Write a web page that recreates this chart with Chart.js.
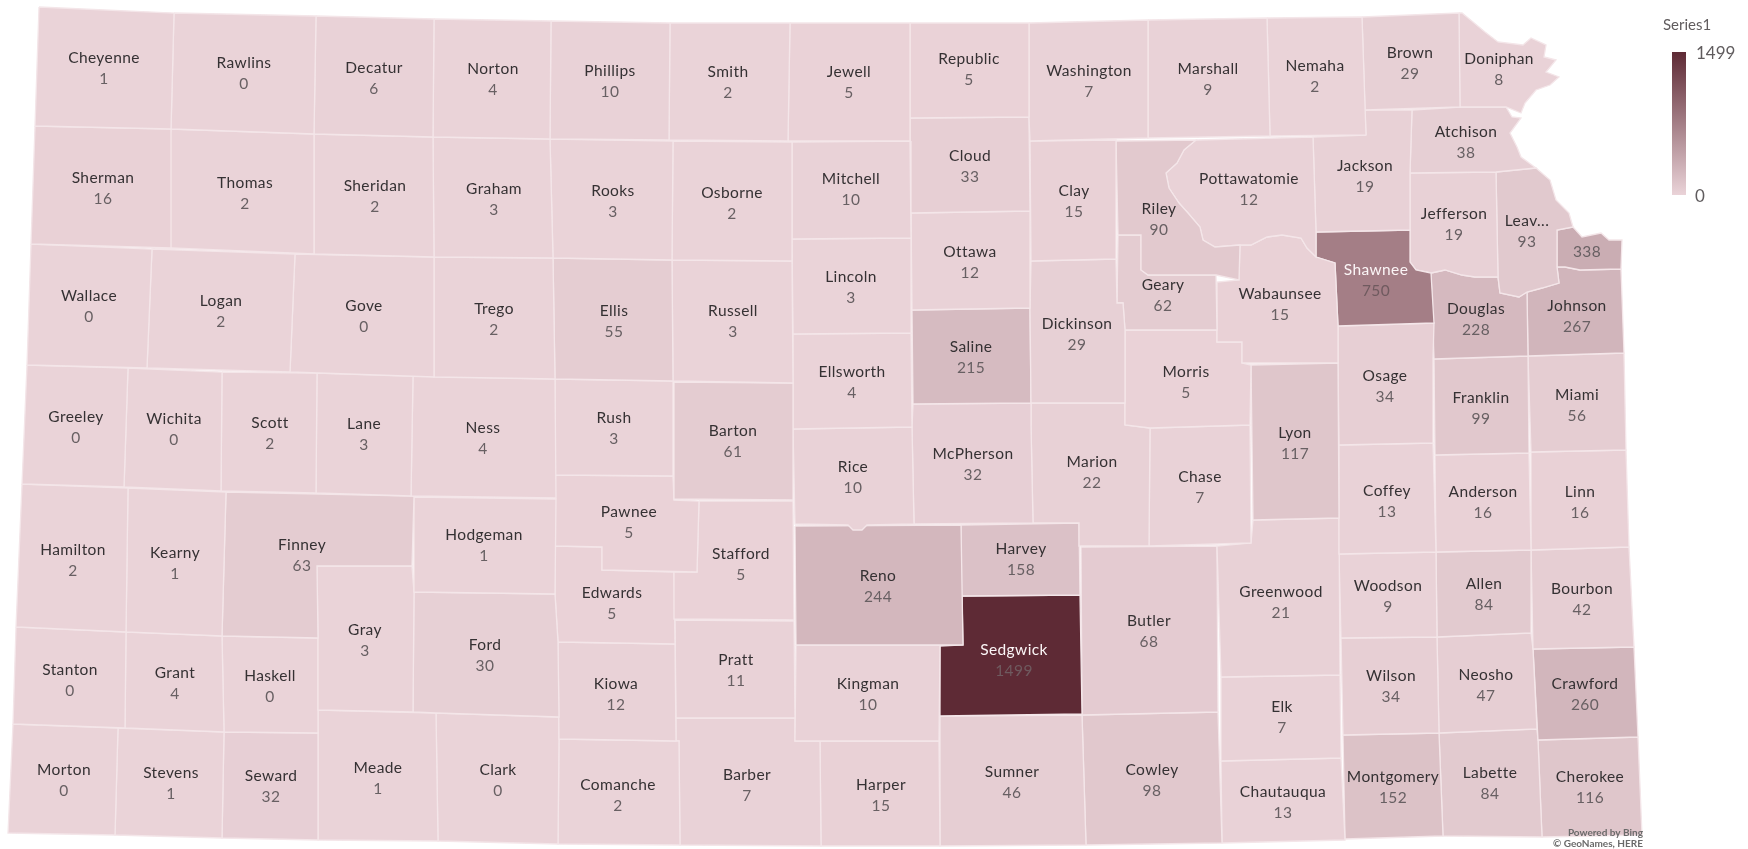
<!DOCTYPE html>
<html>
<head>
<meta charset="utf-8">
<title>Kansas counties</title>
<script src="https://cdn.jsdelivr.net/npm/chart.js@4"></script>
<style>
  html, body { margin: 0; padding: 0; background: #fff; overflow: hidden; }
  #map-chart { display: block; filter: blur(0.4px); }
</style>
</head>
<body>
<canvas id="map-chart" width="1748" height="849"></canvas>
<script>
"use strict";

//////// DATA ///////////
// shown names, the map cuts Leavenworth short and drops Wyandotte
const county_names = [
  'Cheyenne','Rawlins','Decatur','Norton','Phillips','Smith','Jewell','Republic','Washington','Marshall','Nemaha','Brown','Doniphan',
  'Sherman','Thomas','Sheridan','Graham','Rooks','Osborne','Mitchell','Cloud','Clay','Riley','Pottawatomie','Jackson','Atchison',
  'Wallace','Logan','Gove','Trego','Ellis','Russell','Lincoln','Ottawa','Dickinson','Geary','Wabaunsee','Shawnee','Jefferson','Leav...','',
  'Greeley','Wichita','Scott','Lane','Ness','Rush','Barton','Ellsworth','Saline','Morris','Lyon','Osage','Douglas','Johnson','Franklin','Miami',
  'Hamilton','Kearny','Finney','Hodgeman','Pawnee','Stafford','Rice','McPherson','Marion','Chase','Coffey','Anderson','Linn',
  'Gray','Ford','Edwards','Reno','Harvey','Greenwood','Woodson','Allen','Bourbon',
  'Stanton','Grant','Haskell','Kiowa','Pratt','Kingman','Sedgwick','Butler','Wilson','Neosho','Crawford','Elk',
  'Morton','Stevens','Seward','Meade','Clark','Comanche','Barber','Harper','Sumner','Cowley','Chautauqua','Montgomery','Labette','Cherokee'
];

const county_values = [
  1,0,6,4,10,2,5,5,7,9,2,29,8,
  16,2,2,3,3,2,10,33,15,90,12,19,38,
  0,2,0,2,55,3,3,12,29,62,15,750,19,93,338,
  0,0,2,3,4,3,61,4,215,5,117,34,228,267,99,56,
  2,1,63,1,5,5,10,32,22,7,13,16,16,
  3,30,5,244,158,21,9,84,42,
  0,4,0,12,11,10,1499,68,34,47,260,7,
  0,1,32,1,0,2,7,15,46,98,13,152,84,116
];

// county outlines in map units, same order as the names
const county_outlines = [
  [[39,7],[174,13],[171,129],[35,126]],
  [[174,13],[316,16],[314,134],[171,129]],
  [[316,16],[434,19],[433,137],[314,134]],
  [[434,19],[551,21],[550,139],[433,137]],
  [[551,21],[670,23],[669,140],[550,139]],
  [[670,23],[790,23],[788,141],[669,140]],
  [[790,23],[910,23],[910,141],[788,141]],
  [[910,23],[1029,23],[1029,117],[910,118]],
  [[1029,23],[1148,20],[1148,138],[1030,141],[1029,117]],
  [[1148,20],[1267,18],[1270,136],[1148,138]],
  [[1267,18],[1362,17],[1366,135],[1270,136]],
  [[1362,17],[1459,13],[1460,107],[1365,110]],
  [[1459,13],[1462,13],[1473,22],[1485,32],[1498,42],[1523,45],[1531,38],[1546,45],[1544,57],[1556,60],[1546,72],[1559,77],[1550,85],[1536,90],[1525,103],[1521,113],[1506,107],[1460,107]],

  [[35,126],[171,129],[171,248],[31,244]],
  [[171,129],[314,134],[314,254],[171,248],[152,249]],
  [[314,134],[433,137],[434,257],[314,254]],
  [[433,137],[550,139],[553,258],[434,257]],
  [[550,139],[673,141],[672,260],[553,258]],
  [[673,141],[792,142],[792,261],[672,260]],
  [[792,142],[910,141],[911,238],[792,239]],
  [[910,118],[1029,117],[1030,211],[911,213]],
  [[1030,141],[1116,140],[1116,259],[1031,261]],
  [[1116,141],[1196,140],[1184,150],[1177,163],[1166,173],[1169,188],[1179,203],[1188,213],[1200,227],[1203,240],[1215,247],[1240,245],[1239,280],[1216,275],[1148,275],[1141,270],[1141,235],[1118,235]],
  [[1196,140],[1313,137],[1316,232],[1316,257],[1307,248],[1301,238],[1282,235],[1267,237],[1251,245],[1240,245],[1215,247],[1203,240],[1200,227],[1188,213],[1179,203],[1169,188],[1166,173],[1177,163],[1184,150]],
  [[1366,135],[1365,110],[1412,110],[1410,173],[1410,230],[1316,232],[1313,137]],
  [[1412,110],[1460,107],[1506,107],[1512,117],[1521,118],[1510,133],[1517,147],[1521,157],[1536,168],[1496,172],[1410,173]],

  [[31,244],[152,249],[147,368],[27,365]],
  [[152,249],[295,254],[290,372],[147,368]],
  [[295,254],[434,257],[434,377],[290,372]],
  [[434,257],[553,258],[555,379],[434,377]],
  [[553,258],[672,260],[673,381],[555,379]],
  [[672,260],[792,261],[793,383],[673,381]],
  [[792,239],[911,238],[911,333],[793,334]],
  [[911,213],[1030,211],[1030,308],[912,310]],
  [[1031,261],[1116,259],[1117,303],[1123,303],[1125,330],[1125,403],[1031,403],[1030,308]],
  [[1118,235],[1141,235],[1141,270],[1148,275],[1216,275],[1217,330],[1125,330],[1123,303],[1117,303]],
  [[1240,245],[1251,245],[1267,237],[1282,235],[1301,238],[1307,248],[1316,257],[1335,263],[1338,326],[1338,363],[1242,363],[1242,342],[1217,342],[1217,282],[1239,280]],
  [[1316,232],[1410,230],[1410,262],[1416,270],[1431,273],[1434,323],[1338,326],[1335,263],[1316,257]],
  [[1410,173],[1496,172],[1498,277],[1475,277],[1462,275],[1445,270],[1431,273],[1416,270],[1410,262]],
  [[1496,172],[1536,168],[1550,180],[1556,200],[1569,213],[1573,227],[1557,230],[1557,267],[1559,283],[1542,288],[1527,292],[1519,297],[1500,293],[1498,277]],
  [[1557,230],[1573,227],[1582,237],[1601,233],[1609,240],[1622,240],[1621,269],[1580,270],[1565,267],[1557,267]],

  [[27,365],[128,368],[124,487],[22,484]],
  [[128,368],[222,372],[221,491],[124,487]],
  [[222,372],[317,373],[316,493],[221,491]],
  [[317,373],[413,376],[411,496],[316,493]],
  [[413,376],[555,379],[556,498],[411,496]],
  [[555,379],[673,381],[673,476],[555,475]],
  [[674,382],[793,383],[793,500],[674,499]],
  [[793,334],[911,333],[912,427],[793,429]],
  [[912,310],[1030,308],[1031,403],[913,404]],
  [[1125,330],[1217,330],[1217,342],[1242,342],[1242,363],[1251,365],[1250,425],[1150,428],[1125,425]],
  [[1251,365],[1338,363],[1339,518],[1253,520]],
  [[1338,326],[1434,323],[1433,359],[1433,443],[1339,445],[1338,363]],
  [[1431,273],[1445,270],[1462,275],[1475,277],[1498,277],[1500,293],[1519,297],[1527,292],[1528,356],[1434,359]],
  [[1527,292],[1542,288],[1559,283],[1557,267],[1565,267],[1580,270],[1621,269],[1624,353],[1528,356]],
  [[1434,359],[1528,356],[1529,453],[1435,455]],
  [[1528,356],[1624,353],[1626,450],[1531,452]],

  [[22,484],[128,488],[126,632],[16,627]],
  [[128,488],[226,492],[222,636],[126,632]],
  [[226,492],[414,496],[412,566],[317,566],[318,638],[222,636]],
  [[414,497],[556,499],[555,594],[414,592]],
  [[555,475],[673,476],[674,500],[699,501],[697,572],[602,570],[602,547],[555,546]],
  [[699,501],[793,501],[794,620],[674,619],[674,572],[697,572]],
  [[793,429],[912,427],[914,524],[867,525],[862,530],[853,530],[848,525],[795,524]],
  [[913,404],[1031,403],[1031,425],[1033,523],[914,524],[912,427]],
  [[1031,403],[1125,403],[1125,425],[1150,428],[1149,546],[1079,546],[1079,523],[1033,523],[1031,425]],
  [[1150,428],[1250,425],[1251,543],[1149,546]],
  [[1339,445],[1433,443],[1436,552],[1339,554]],
  [[1435,455],[1529,453],[1531,550],[1436,552]],
  [[1531,452],[1626,450],[1629,547],[1531,550]],

  [[317,566],[412,566],[414,592],[413,712],[318,710],[318,638]],
  [[414,592],[555,594],[558,642],[559,717],[436,713],[413,712]],
  [[555,546],[602,547],[602,570],[674,572],[675,644],[558,642],[555,594]],
  [[795,526],[961,525],[963,645],[796,645]],
  [[961,525],[1079,523],[1080,595],[962,596]],
  [[1253,520],[1339,518],[1340,675],[1221,677],[1217,546],[1251,543]],
  [[1339,554],[1436,552],[1437,637],[1341,638]],
  [[1436,552],[1531,550],[1531,633],[1437,637]],
  [[1531,550],[1629,547],[1634,647],[1533,649]],

  [[16,627],[126,632],[125,728],[13,724]],
  [[126,632],[222,636],[224,732],[125,728]],
  [[222,636],[318,638],[318,733],[224,732]],
  [[558,642],[675,644],[676,741],[559,739]],
  [[675,620],[794,621],[795,718],[676,718]],
  [[796,645],[940,645],[939,741],[795,741]],
  [[962,596],[1080,595],[1082,714],[940,716],[940,646],[963,645]],
  [[1081,547],[1217,546],[1218,712],[1082,715]],
  [[1341,638],[1437,637],[1439,733],[1343,735]],
  [[1437,637],[1531,633],[1533,649],[1537,729],[1439,733]],
  [[1533,649],[1634,647],[1638,737],[1538,740]],
  [[1221,677],[1340,675],[1341,758],[1221,761]],

  [[13,724],[118,728],[115,835],[8,833]],
  [[118,728],[224,732],[222,838],[115,835]],
  [[224,732],[318,733],[318,840],[222,838]],
  [[318,710],[436,713],[438,841],[318,840]],
  [[436,713],[559,717],[559,739],[558,844],[438,841]],
  [[559,739],[679,741],[680,845],[558,844]],
  [[676,718],[795,718],[795,741],[820,741],[821,846],[680,845],[679,741],[676,741]],
  [[820,741],[939,741],[940,846],[821,846]],
  [[940,716],[1082,715],[1086,845],[940,846]],
  [[1082,715],[1218,712],[1222,843],[1086,845]],
  [[1221,761],[1341,758],[1345,840],[1222,843]],
  [[1343,735],[1439,733],[1443,836],[1345,839]],
  [[1439,733],[1537,729],[1538,740],[1542,837],[1443,836]],
  [[1538,740],[1638,737],[1642,835],[1542,837]]
];

// where each county name sits, map units
const label_x = [
  104,244,374,493,610,728,849,969,1089,1208,1315,1410,1499,
  103,245,375,494,613,732,851,970,1074,1159,1249,1365,1466,
  89,221,364,494,614,733,851,970,1077,1163,1280,1376,1454,1527,1587,
  76,174,270,364,483,614,733,852,971,1186,1295,1385,1476,1577,1481,1577,
  73,175,302,484,629,741,853,973,1092,1200,1387,1483,1580,
  365,485,612,878,1021,1281,1388,1484,1582,
  70,175,270,616,736,868,1014,1149,1391,1486,1585,1282,
  64,171,271,378,498,618,747,881,1012,1152,1283,1393,1490,1590
];
const label_y = [
  58,63,68,69,71,72,72,59,71,69,66,53,59,
  178,183,186,189,191,193,179,156,191,209,179,166,132,
  296,301,306,309,311,311,277,252,324,285,294,270,214,221,231,
  417,419,423,424,428,418,431,372,347,372,433,376,309,306,398,395,
  550,553,545,535,512,554,467,454,462,477,491,492,492,
  630,645,593,576,549,592,586,584,589,
  670,673,676,684,660,684,650,621,676,675,684,707,
  770,773,776,768,770,785,775,785,772,770,792,777,773,777
];

const value_max = 1499;
const series_name = 'Series1';
const low_colour = [234, 211, 216];
const high_colour = [94, 42, 53];

//////// FUNCTIONS /////////

function value_colour(value) {
  const t = value / value_max;
  const rgb = low_colour.map((c, i) => Math.round(c + (high_colour[i] - c) * t));
  return `rgb(${rgb[0]},${rgb[1]},${rgb[2]})`;
}

function create_dataset(name, i) {
  const pts = county_outlines[i].map(p => ({x: p[0], y: p[1]}));
  pts.push({x: pts[0].x, y: pts[0].y});
  return {
    label: name,
    data: pts,
    fill: 'shape',
    tension: 0,
    pointRadius: 0,
    borderWidth: 1.3,
    borderColor: '#f4e6e9',
    backgroundColor: value_colour(county_values[i]),
  };
}

// county names and values
const county_labels = {
  id: 'county_labels',
  afterDatasetsDraw(chart) {
    const ctx = chart.ctx;
    const x_scale = chart.scales.x;
    const y_scale = chart.scales.y;
    ctx.save();
    ctx.textAlign = 'center';
    ctx.textBaseline = 'middle';
    ctx.font = '15.5px Lato';
    ctx.letterSpacing = '0.4px';
    county_names.forEach((name, i) => {
      const px = x_scale.getPixelForValue(label_x[i]);
      const py = y_scale.getPixelForValue(label_y[i]);
      const dark = county_values[i] > 700;
      ctx.fillStyle = dark ? '#fbf5f6' : '#353133';
      ctx.fillText(name, px, py);
      ctx.fillStyle = dark ? '#6f5a5f' : '#686063';
      ctx.fillText(String(county_values[i]), px, py + 21);
    });
    ctx.restore();
  }
};

// colour scale at the top right and the map credit
const map_legend = {
  id: 'map_legend',
  afterDraw(chart) {
    const ctx = chart.ctx;
    ctx.save();
    const grad = ctx.createLinearGradient(0, 52, 0, 195);
    grad.addColorStop(0, value_colour(value_max));
    grad.addColorStop(1, value_colour(0));
    ctx.fillStyle = grad;
    ctx.fillRect(1672, 52, 14, 143);

    ctx.fillStyle = '#605c5e';
    ctx.textBaseline = 'middle';
    ctx.font = '15px Lato';
    ctx.fillText(series_name, 1663, 25);
    ctx.font = '17px Lato';
    ctx.fillText(String(value_max), 1696, 54);
    ctx.fillText('0', 1695, 197);

    ctx.textAlign = 'right';
    ctx.font = 'bold 10px Lato';
    ctx.fillStyle = '#6a6a6a';
    ctx.fillText('Powered by Bing', 1643, 833);
    ctx.fillText('\u00a9 GeoNames, HERE', 1643, 844);
    ctx.restore();
  }
};

const map_chart = new Chart(document.getElementById('map-chart').getContext('2d'), {
  type: 'line',
  data: {datasets: county_names.map(create_dataset)},
  options: {
    responsive: false,
    animation: false,
    parsing: true,
    layout: {padding: 0},
    scales: {
      x: {type: 'linear', display: false, min: 0, max: 1748},
      y: {type: 'linear', display: false, min: 0, max: 849, reverse: true}
    },
    plugins: {
      legend: {display: false},
      tooltip: {enabled: false},
      title: {display: false}
    }
  },
  plugins: [county_labels, map_legend]
});
</script>
</body>
</html>
